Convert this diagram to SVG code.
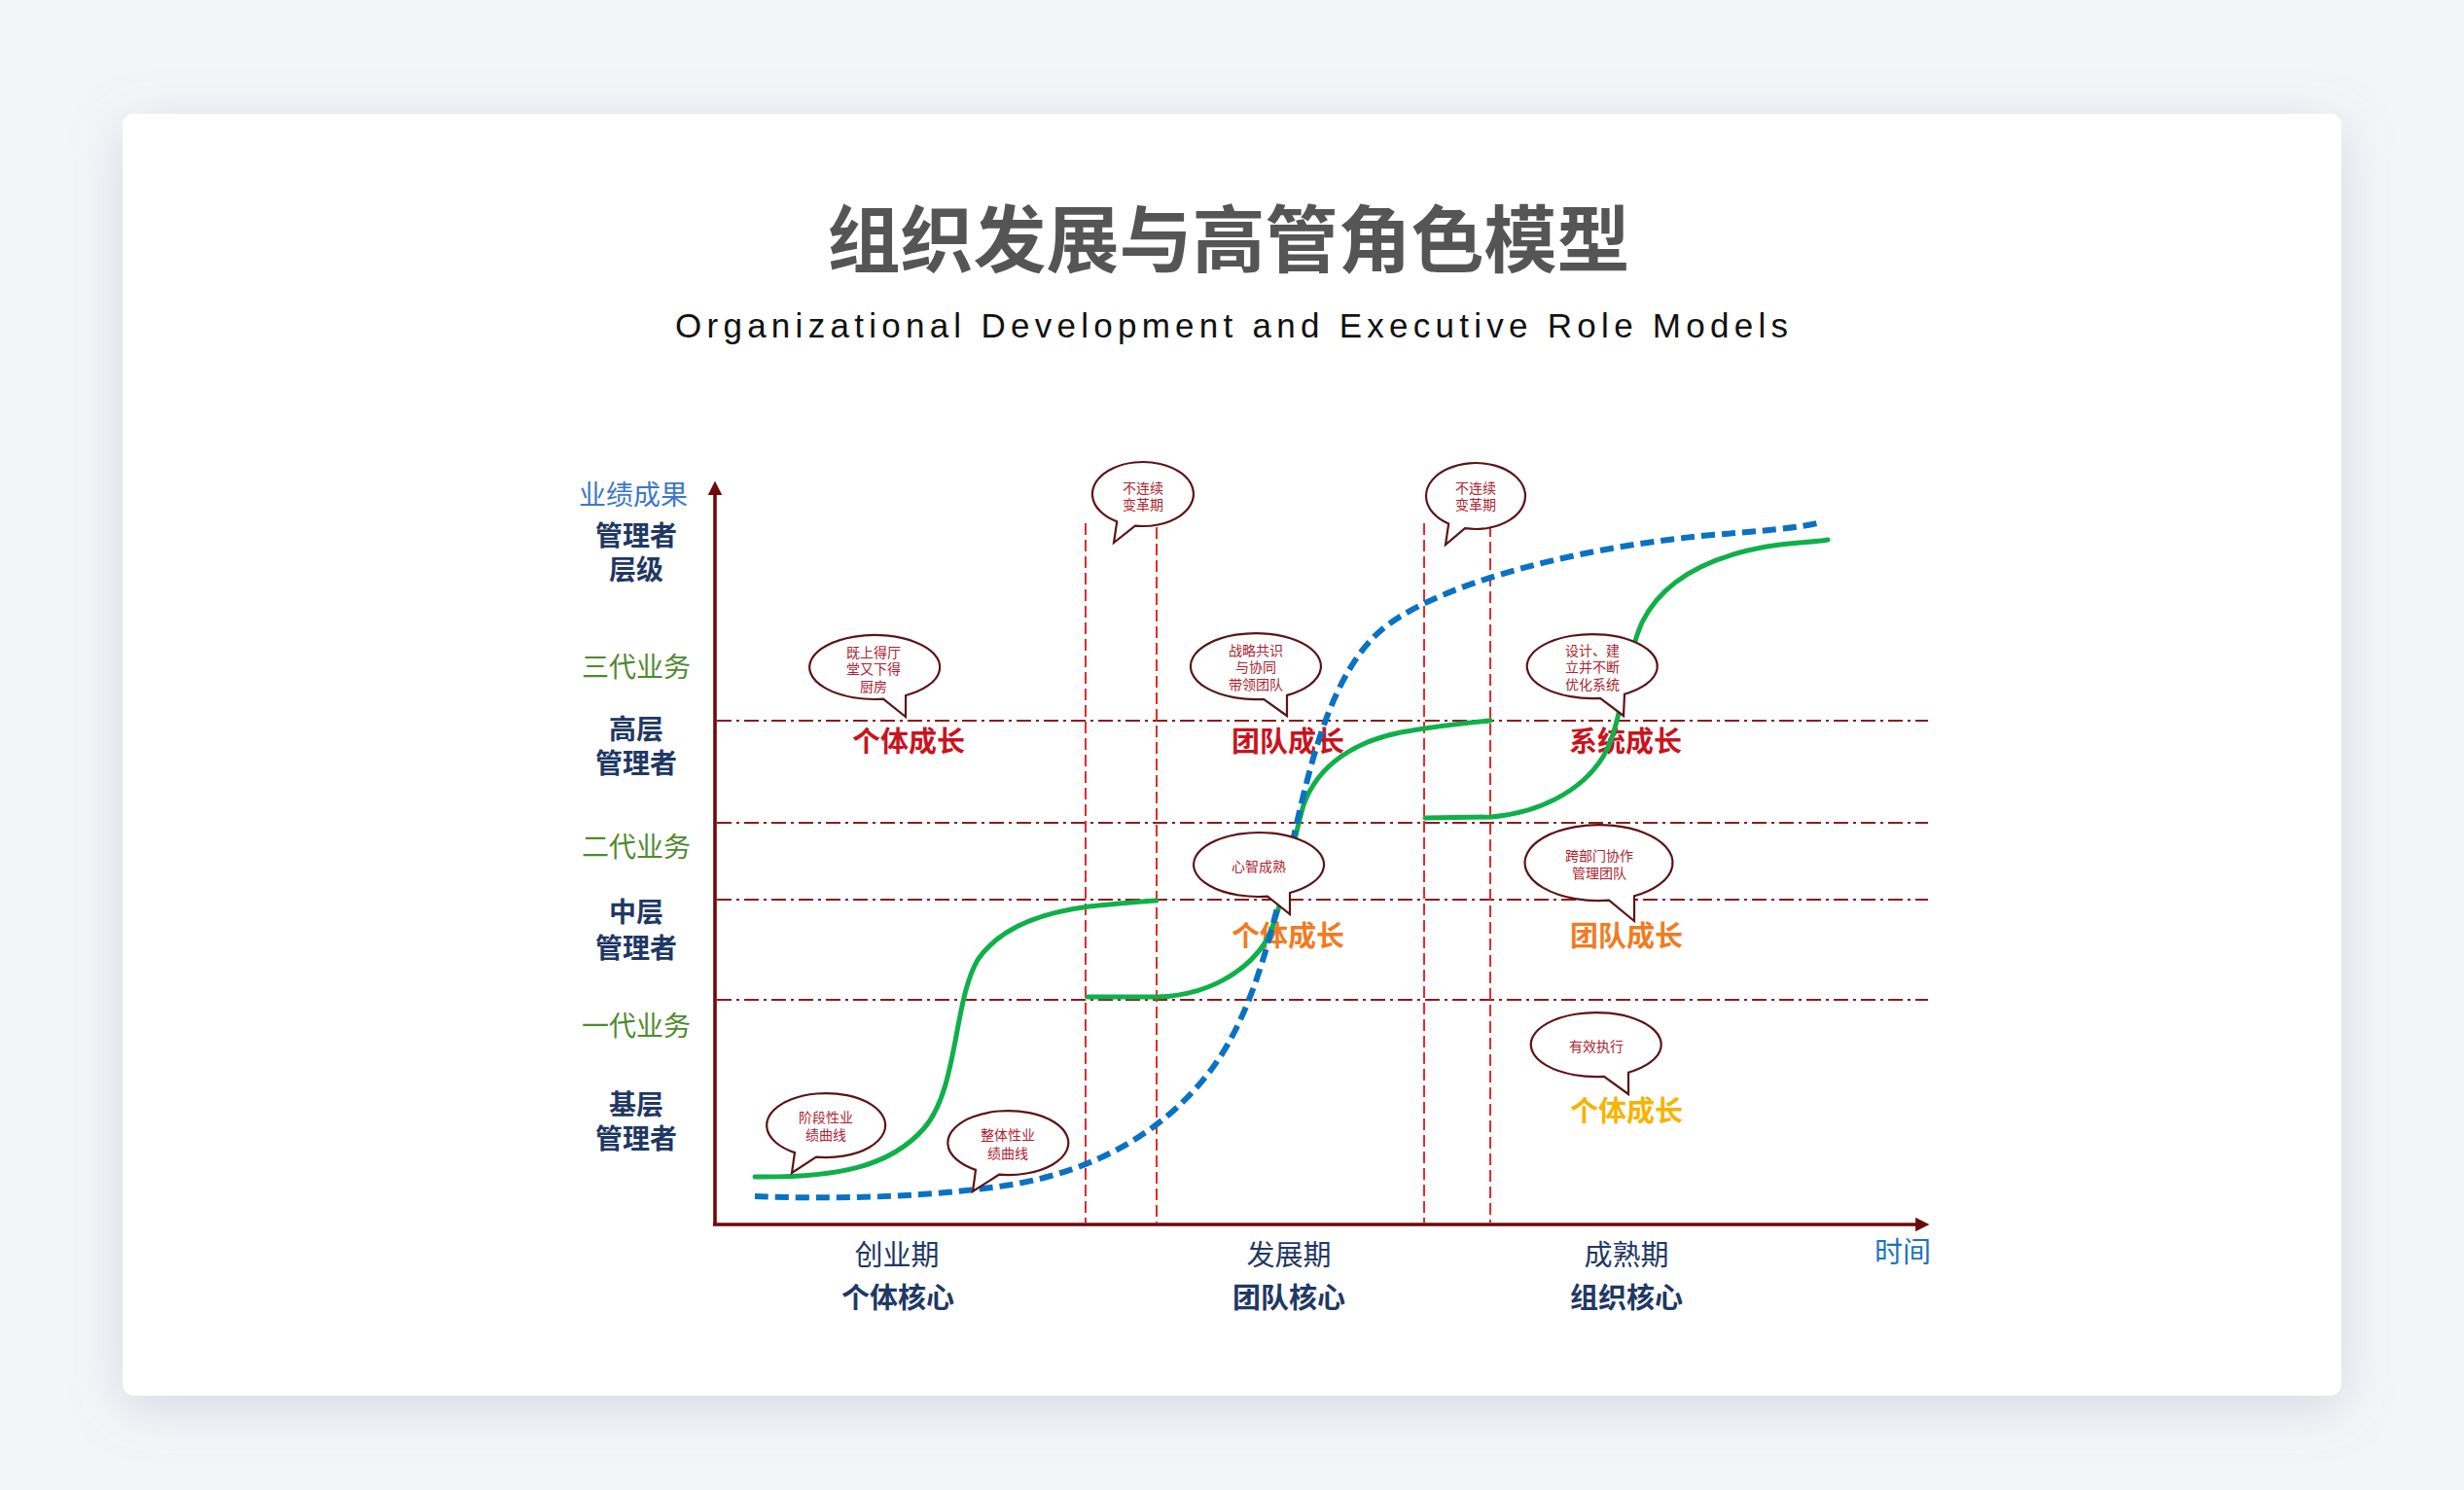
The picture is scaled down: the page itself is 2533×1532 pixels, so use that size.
<svg xmlns="http://www.w3.org/2000/svg" width="2533" height="1532" viewBox="0 0 2533 1532">
<defs>
<filter id="shadow" x="-10%" y="-10%" width="120%" height="125%">
<feDropShadow dx="0" dy="12" stdDeviation="26" flood-color="#8a90a6" flood-opacity="0.28"/>
</filter>
<marker id="arrowX" viewBox="0 0 10 10" refX="2" refY="5" markerWidth="4" markerHeight="4" orient="auto" markerUnits="strokeWidth">
<path d="M0,0 L10,5 L0,10 Z" fill="#6e0a0a"/>
</marker>
</defs>
<style>
.cjk{font-family:"Noto Sans CJK SC","Noto Sans",sans-serif;}
.ylab{font-size:28px;text-anchor:middle;fill:#1f3864;font-weight:700;}
.gen{font-size:28px;text-anchor:middle;fill:#4e8a2e;}
.xlab{font-size:29px;text-anchor:middle;fill:#1f3864;}
.xcore{font-size:29px;text-anchor:middle;fill:#1f3864;font-weight:700;}
.grow{font-size:29px;text-anchor:middle;font-weight:700;}
.hline{stroke:#8c1c1c;stroke-width:2;stroke-dasharray:15 5 3 5;fill:none;}
.vline{stroke:#e52b2b;stroke-width:2;stroke-dasharray:12 5;fill:none;}
.bub{fill:#ffffff;stroke:#5c1414;stroke-width:2.2;stroke-linejoin:miter;}
.btxt{font-size:14px;text-anchor:middle;fill:#ad2330;}
.green{fill:none;stroke:#0fb04a;stroke-width:5;stroke-linecap:round;}
.blue{fill:none;stroke:#0a72c2;stroke-width:6;stroke-dasharray:14 7;}
</style>
<rect x="0" y="0" width="2533" height="1532" fill="#f4f5f9"/>
<rect id="card" x="126" y="117" width="2281" height="1318" rx="12" fill="#ffffff" filter="url(#shadow)"/>

<g id="title">
<text x="1263" y="274" class="cjk" font-size="75" font-weight="700" fill="#555555" text-anchor="middle">组织发展与高管角色模型</text>
<text x="694" y="347" font-family="'Liberation Sans',Arial,sans-serif" font-size="35" fill="#111111" textLength="1144" lengthAdjust="spacing">Organizational Development and Executive Role Models</text>
</g>

<g id="grid">
<line class="hline" x1="737" y1="741" x2="1982" y2="741"/>
<line class="hline" x1="737" y1="846" x2="1982" y2="846"/>
<line class="hline" x1="737" y1="925" x2="1982" y2="925"/>
<line class="hline" x1="737" y1="1028" x2="1982" y2="1028"/>
<line class="vline" x1="1116" y1="538" x2="1116" y2="1257"/>
<line class="vline" x1="1189" y1="542" x2="1189" y2="1257"/>
<line class="vline" x1="1464" y1="538" x2="1464" y2="1257"/>
<line class="vline" x1="1532" y1="540" x2="1532" y2="1257"/>
</g>

<g id="axes">
<line x1="735" y1="1259" x2="735" y2="506" stroke="#6e0a0a" stroke-width="3.6" marker-end="url(#arrowX)"/>
<line x1="733" y1="1259" x2="1972" y2="1259" stroke="#6e0a0a" stroke-width="3.6" marker-end="url(#arrowX)"/>
</g>

<g id="y-labels" class="cjk">
<text x="651" y="519" font-size="28" text-anchor="middle" fill="#3c78c8">业绩成果</text>
<text x="654" y="561" class="ylab">管理者</text>
<text x="654" y="596" class="ylab">层级</text>
<text x="654" y="696" class="gen">三代业务</text>
<text x="654" y="760" class="ylab">高层</text>
<text x="654" y="795" class="ylab">管理者</text>
<text x="654" y="881" class="gen">二代业务</text>
<text x="654" y="948" class="ylab">中层</text>
<text x="654" y="985" class="ylab">管理者</text>
<text x="654" y="1065" class="gen">一代业务</text>
<text x="654" y="1146" class="ylab">基层</text>
<text x="654" y="1181" class="ylab">管理者</text>
</g>

<g id="x-labels" class="cjk">
<text x="922" y="1301" class="xlab">创业期</text>
<text x="923" y="1345" class="xcore">个体核心</text>
<text x="1325" y="1301" class="xlab">发展期</text>
<text x="1325" y="1345" class="xcore">团队核心</text>
<text x="1672" y="1301" class="xlab">成熟期</text>
<text x="1672" y="1345" class="xcore">组织核心</text>
<text x="1956" y="1298" font-size="29" text-anchor="middle" fill="#1a73c0">时间</text>
</g>

<g id="growth-labels" class="cjk">
<text x="934" y="773" class="grow" fill="#c8141e">个体成长</text>
<text x="1324" y="773" class="grow" fill="#c8141e">团队成长</text>
<text x="1671" y="773" class="grow" fill="#c8141e">系统成长</text>
<text x="1324" y="973" class="grow" fill="#f07c22">个体成长</text>
<text x="1672" y="973" class="grow" fill="#f07c22">团队成长</text>
<text x="1672" y="1153" class="grow" fill="#f5b400">个体成长</text>
</g>

<g id="connectors">
<path id="stage-curve-1" class="green" d="M776,1210 C860,1211 915,1200 950,1160 C985,1120 980,1030 1005,987 C1030,950 1080,937 1120,932 C1150,929 1170,927 1189,926"/>
<path id="stage-curve-2" class="green" d="M1118,1025 L1189,1025 C1240,1024 1280,1000 1300,970 C1318,940 1325,880 1340,828 C1355,785 1395,762 1440,753 C1480,746 1510,743 1532,741"/>
<path id="stage-curve-3" class="green" d="M1465,841 L1533,840 C1580,836 1625,815 1648,778 C1668,745 1670,680 1688,640 C1710,595 1760,572 1816,562 C1845,557 1862,558 1879,555"/>
<path id="overall-curve" class="blue" d="M776,1230 C850,1233 950,1232 1040,1218 C1130,1203 1200,1160 1245,1100 C1290,1040 1310,950 1330,860 C1348,780 1370,690 1421,647 C1470,606 1600,565 1760,550 C1810,546 1850,543 1872,537"/>
</g>

<g id="bubble-change-1" class="cjk">
<path class="bub" d="M1166.9,540.6 A52,33 0 1 0 1148.2,536.3 L1145,558 Z"/>
<text x="1175" y="507" class="btxt">不连续</text>
<text x="1175" y="524" class="btxt">变革期</text>
</g>
<g id="bubble-change-2" class="cjk">
<path class="bub" d="M1506,543.2 A51,34 0 1 0 1489.2,538.5 L1486,560 Z"/>
<text x="1517" y="507" class="btxt">不连续</text>
<text x="1517" y="524" class="btxt">变革期</text>
</g>
<g id="bubble-hall" class="cjk">
<path class="bub" d="M931.1,715 A67,33 0 1 0 908,718.7 L931,737 Z"/>
<text x="898" y="676" class="btxt">既上得厅</text>
<text x="898" y="693" class="btxt">堂又下得</text>
<text x="898" y="711" class="btxt">厨房</text>
</g>
<g id="bubble-strategy" class="cjk">
<path class="bub" d="M1323,714.9 A67,34 0 1 0 1299,718.8 L1323,736 Z"/>
<text x="1291" y="674" class="btxt">战略共识</text>
<text x="1291" y="691" class="btxt">与协同</text>
<text x="1291" y="709" class="btxt">带领团队</text>
</g>
<g id="bubble-system" class="cjk">
<path class="bub" d="M1670,713.7 A67,33 0 1 0 1645,717.8 L1669,736 Z"/>
<text x="1637" y="674" class="btxt">设计、建</text>
<text x="1637" y="691" class="btxt">立并不断</text>
<text x="1637" y="709" class="btxt">优化系统</text>
</g>
<g id="bubble-mind" class="cjk">
<path class="bub" d="M1326,918 A67,33 0 1 0 1303,921.7 L1326,940 Z"/>
<text x="1294" y="896" class="btxt">心智成熟</text>
</g>
<g id="bubble-cross" class="cjk">
<path class="bub" d="M1680,921.3 A76,39 0 1 0 1654.1,925.7 L1680,947 Z"/>
<text x="1644" y="885" class="btxt">跨部门协作</text>
<text x="1644" y="903" class="btxt">管理团队</text>
</g>
<g id="bubble-exec" class="cjk">
<path class="bub" d="M1674,1102.7 A67,33 0 1 0 1649,1106.8 L1674,1125 Z"/>
<text x="1641" y="1081" class="btxt">有效执行</text>
</g>
<g id="bubble-stage" class="cjk">
<path class="bub" d="M839,1189.6 A61,33 0 1 0 817,1185.1 L814,1206 Z"/>
<text x="849" y="1154" class="btxt">阶段性业</text>
<text x="849" y="1172" class="btxt">绩曲线</text>
</g>
<g id="bubble-overall" class="cjk">
<path class="bub" d="M1027,1207.7 A62,33 0 1 0 1003,1202.9 L1000,1225 Z"/>
<text x="1036" y="1172" class="btxt">整体性业</text>
<text x="1036" y="1191" class="btxt">绩曲线</text>
</g>
</svg>
